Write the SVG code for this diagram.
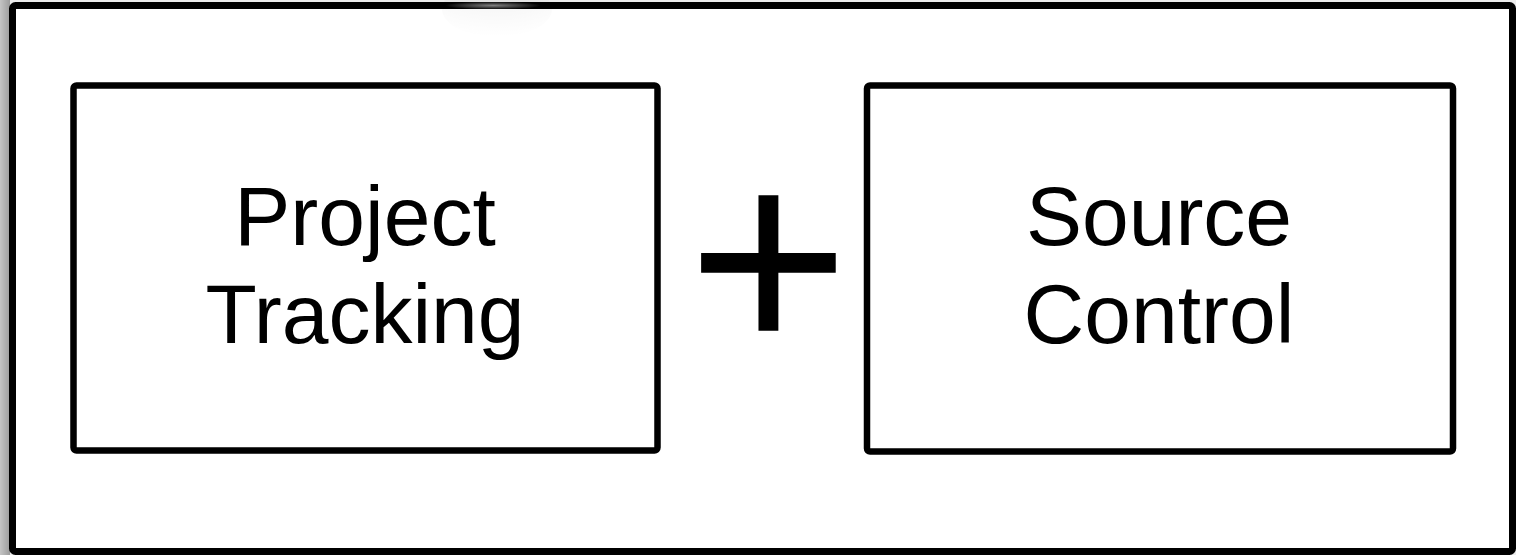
<svg xmlns="http://www.w3.org/2000/svg" width="1516" height="555" viewBox="0 0 1516 555">
  <style>
    .frame { fill: #ffffff; stroke: #000000; stroke-width: 7; }
    .box { fill: #ffffff; stroke: #000000; stroke-width: 6.5; }
    .label { font-family: "Liberation Sans", Arial, Helvetica, sans-serif; font-size: 84px; fill: #000000; text-anchor: middle; }
    .plus { font-family: "Liberation Sans", Arial, Helvetica, sans-serif; font-size: 277px; fill: #000000; text-anchor: middle; }
  </style>
  <defs>
    <linearGradient id="edgeShade" x1="0" y1="0" x2="1" y2="0">
      <stop offset="0" stop-color="#c4c4c4"/>
      <stop offset="1" stop-color="#9c9c9c"/>
    </linearGradient>
    <radialGradient id="glare" cx="0.5" cy="0.5" r="0.5">
      <stop offset="0" stop-color="#ffffff" stop-opacity="0.5"/>
      <stop offset="1" stop-color="#ffffff" stop-opacity="0"/>
    </radialGradient>
    <radialGradient id="dimple" cx="0.5" cy="0" r="1">
      <stop offset="0" stop-color="#000000" stop-opacity="0.06"/>
      <stop offset="1" stop-color="#000000" stop-opacity="0"/>
    </radialGradient>
  </defs>

  <!-- backdrop around the frame -->
  <rect x="0" y="0" width="1516" height="555" fill="#ececec"/>
  <rect x="0" y="0" width="10" height="555" fill="url(#edgeShade)"/>

  <!-- outer frame -->
  <g id="frame">
    <rect class="frame" x="12.5" y="5.5" width="1500" height="546" rx="3"/>
    <ellipse cx="497" cy="9" rx="55" ry="28" fill="url(#dimple)"/>
    <ellipse cx="493" cy="5.5" rx="48" ry="4" fill="url(#glare)"/>
  </g>

  <g id="project-tracking">
    <rect class="box" x="73.5" y="85.5" width="584" height="365" rx="3"/>
    <text class="label" x="365" y="245">Project</text>
    <text class="label" x="365" y="343">Tracking</text>
  </g>

  <g id="plus">
    <text class="plus" x="768.5" y="355">+</text>
  </g>

  <g id="source-control">
    <rect class="box" x="867" y="85.5" width="586" height="366" rx="3"/>
    <text class="label" x="1159" y="245">Source</text>
    <text class="label" x="1159" y="343">Control</text>
  </g>

  <g id="connectors"/>
</svg>
